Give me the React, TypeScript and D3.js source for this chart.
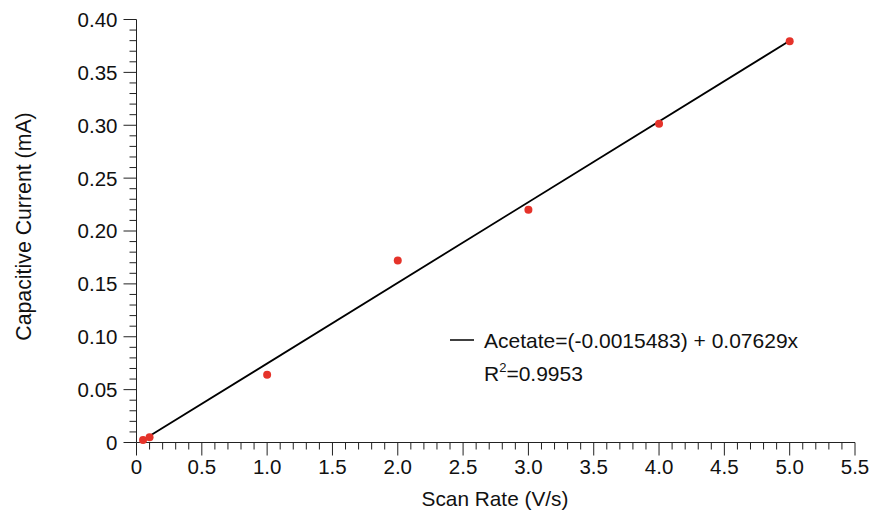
import React from "react";
import * as d3 from "d3";

const scanRates = [0.05, 0.1, 1, 2, 3, 4, 5];
const currents = [0.0024, 0.005, 0.064, 0.172, 0.22, 0.3015, 0.3795];
const fitIntercept = -0.0015483;
const fitSlope = 0.07629;
const xTicks = [0, 0.5, 1, 1.5, 2, 2.5, 3, 3.5, 4, 4.5, 5, 5.5];
const yTicks = [0, 0.05, 0.1, 0.15, 0.2, 0.25, 0.3, 0.35, 0.4];
const legendLine1 = "Acetate=(-0.0015483) + 0.07629x";
const legendR2 = "0.9953";

const W = 875;
const H = 518;
const FONT = "'Liberation Sans', Arial, Helvetica, sans-serif";

export default function App() {
  const x = d3.scaleLinear().domain([0, 5.5]).range([136.5, 855]);
  const y = d3.scaleLinear().domain([0, 0.4]).range([442.5, 19.5]);
  const xMinor = d3.range(0, 56).map((i) => i / 10).filter((v) => Math.round(v * 10) % 5 !== 0);
  const yMinor = d3.range(0, 41).map((i) => i / 100).filter((v) => Math.round(v * 100) % 5 !== 0);
  const xMin = d3.min(scanRates) as number;
  const xMax = d3.max(scanRates) as number;
  const fitLine = d3.line<number>().x((d) => x(d)).y((d) => y(fitIntercept + fitSlope * d));
  const yFmt = (v: number) => (v === 0 ? "0" : v.toFixed(2));
  const xFmt = (v: number) => (v === 0 ? "0" : v.toFixed(1));
  const axisColor = "#222";
  return (
    <svg width={W} height={H} style={{ position: "absolute", left: 0, top: 0 }} fontFamily={FONT}>
      <rect width={W} height={H} fill="#fff" />
      {/* y axis */}
      <line x1={x(0)} x2={x(0)} y1={y(0)} y2={y(0.4)} stroke={axisColor} />
      {yTicks.map((t) => (
        <g key={"yt" + t}>
          <line x1={x(0) - 13} x2={x(0)} y1={y(t)} y2={y(t)} stroke={axisColor} />
          <text x={x(0) - 19} y={y(t)} dy="0.36em" textAnchor="end" fontSize={20.5} fill="#111">
            {yFmt(t)}
          </text>
        </g>
      ))}
      {yMinor.map((t) => (
        <line key={"ym" + t} x1={x(0) - 7} x2={x(0)} y1={y(t)} y2={y(t)} stroke={axisColor} />
      ))}
      {/* x axis */}
      <line x1={x(0)} x2={x(5.5)} y1={y(0)} y2={y(0)} stroke={axisColor} />
      {xTicks.map((t) => (
        <g key={"xt" + t}>
          <line x1={x(t)} x2={x(t)} y1={y(0)} y2={y(0) + 13} stroke={axisColor} />
          <text x={x(t)} y={y(0) + 31} textAnchor="middle" fontSize={20.5} fill="#111">
            {xFmt(t)}
          </text>
        </g>
      ))}
      {xMinor.map((t) => (
        <line key={"xm" + t} x1={x(t)} x2={x(t)} y1={y(0)} y2={y(0) + 7} stroke={axisColor} />
      ))}
      {/* axis titles */}
      <text x={495} y={506} textAnchor="middle" fontSize={20.8} fill="#111">
        Scan Rate (V/s)
      </text>
      <text
        transform={`translate(31, 226.5) rotate(-90)`}
        textAnchor="middle"
        fontSize={21.3}
        fill="#111"
      >
        Capacitive Current (mA)
      </text>
      {/* fit */}
      <path d={fitLine([xMin, xMax]) as string} fill="none" stroke="#000" strokeWidth={1.8} />
      {/* points */}
      {scanRates.map((s, i) => (
        <circle key={"p" + i} cx={x(s)} cy={y(currents[i])} r={4} fill="#e5332a" />
      ))}
      {/* legend */}
      <line x1={450} x2={474} y1={340} y2={340} stroke="#000" strokeWidth={1.5} />
      <text x={484} y={347.5} fontSize={21} fill="#111">
        {legendLine1}
      </text>
      <text x={484} y={381} fontSize={21} fill="#111">
        R<tspan dy={-9} fontSize={13}>2</tspan>
        <tspan dy={9}>={legendR2}</tspan>
      </text>
    </svg>
  );
}
